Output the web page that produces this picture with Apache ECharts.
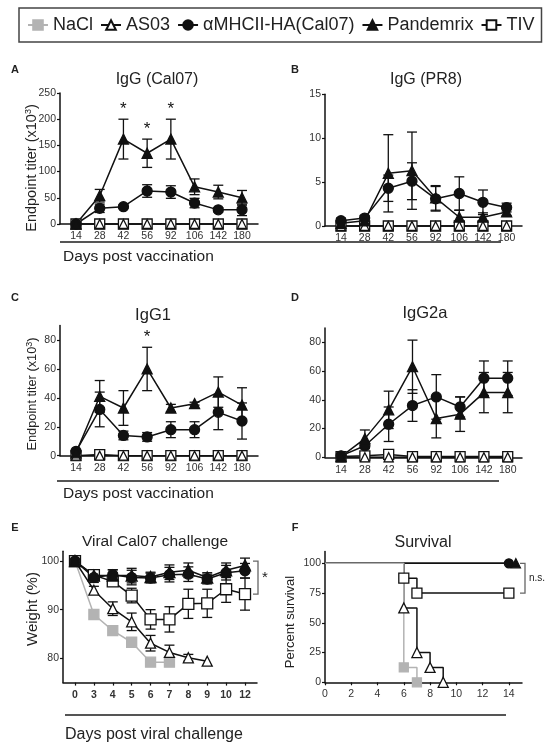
<!DOCTYPE html>
<html><head><meta charset="utf-8">
<script src="https://cdn.jsdelivr.net/npm/echarts@6/dist/echarts.min.js"></script>
<style>html,body{margin:0;padding:0;background:#fff}#c{width:552px;height:742px}</style>
</head><body><div id="c"></div>
<script>
// ---------- data ----------
const vacDays = ['14','28','42','56','92','106','142','180'];
// A: IgG (Cal07)
const aNaCl = [0,0,0,0,0,0,0,0];
const aAS03 = [0,0,0,0,0,0,0,0];
const aTIV  = [0,0,0,0,0,0,0,0];
const aMHC    = [0,30,33,63,61,40,27,27];
const aMHCErr = [0,8,3,12,12,9,4,11];
const aPan    = [0,54,162,135,162,71,61,50];
const aPanErr = [0,12,38,27,38,15,13,14];
const aStars  = [2,3,4];
// B: IgG (PR8)
const bNaCl = [0,0,0,0,0,0,0,0];
const bAS03 = [0,0,0,0,0,0,0,0];
const bTIV  = [0,0,0,0,0,0,0,0];
const bMHC    = [0.6,0.9,4.3,5.1,3.1,3.7,2.7,2.1];
const bMHCErr = [0.3,0.3,1.5,2.1,1.4,1.9,1.4,0.5];
const bPan    = [0.3,0.6,6.0,6.3,3.2,1.0,1.0,1.6];
const bPanErr = [0.3,0.3,4.4,4.4,1.4,0.8,0.5,0.4];
const bStars  = [];
// C: IgG1
const cNaCl = [0,0,0,0,0,0,0,0];
const cAS03 = [0,0,0,0,0,0,0,0];
const cTIV  = [0,0.8,0,0,0,0,0,0];
const cMHC    = [3,32,14,13,18,18,30,24];
const cMHCErr = [1,12,3,3,5.5,5.5,12,12.5];
const cPan    = [2,41,33,60,33,36,44,35];
const cPanErr = [1,11,12,15,2.5,1,10.5,12];
const cStars  = [3];
// D: IgG2a
const dNaCl = [0,0,0,0,0,0,0,0];
const dAS03 = [0,0,0,0,0,0,0,0];
const dTIV  = [0.5,1,2,0.5,0.5,0.5,0.5,0.5];
const dMHC    = [1,8,23,36,42,35,55,55];
const dMHCErr = [0.5,2,12,11,15.5,7,12,12];
const dPan    = [0.5,13,33,63,27,30,45,45];
const dPanErr = [0.5,6,13,18.5,13.5,12,14,14];
const dStars  = [];
// E: weight after challenge
const chDays = ['0','3','4','5','6','7','8','9','10','12'];
const eNaCl    = [100,89,85.7,83.3,79.2,79.2];
const eAS03    = [100,94,90.2,87.5,83.1,81.2,80.1,79.4];
const eAS03Err = [0,0.8,1.4,1.8,1.6,1.5,0.7,0];
const eMHC     = [100,96.6,97.2,96.6,96.5,97.2,97.3,96.3,97.6,98];
const eMHCErr  = [0,1,1,1.5,1,1.5,1.5,1,1.5,1.5];
const ePan     = [100,97,97,97,96.7,97.7,98.1,96.6,98.1,99.1];
const ePanErr  = [0,0.8,1.2,1.5,1,1.5,1.5,1,1.5,1.5];
const eTIV     = [100,97.1,95.8,92.9,88,88,91.2,91.3,94.2,93.2];
const eTIVErr  = [0,1,1,1.5,2,2.6,3,2.9,2.7,3.3];
const eBracket = [100,93.2];
// F: survival (day, percent)
const fNaCl = [[0,100],[6,12.5],[7,0]];
const fAS03 = [[0,100],[6,62.5],[7,25],[8,12.5],[9,0]];
const fTIV  = [[0,100],[6,87.5],[7,75],[14,75]];
const fMHC  = [[0,100],[14,100]];
const fPan  = [[0,100],[14,100]];
const fBracket = [100,75];
// tick labels
const aTicks = [0,50,100,150,200,250];
const bTicks = [0,5,10,15];
const cdTicks = [0,20,40,60,80];
const eTicks = [80,90,100];
const fYTicks = [0,25,50,75,100];
const fXTicks = [0,2,4,6,8,10,12,14];

// ---------- styles ----------
const FONT = '"Liberation Sans", Arial, Helvetica, sans-serif';
const GRAY = '#b3b3b3', BLK = '#111';
const NAMES = {nacl:'NaCl', as03:'AS03', mhc:'αMHCII-HA(Cal07)', pan:'Pandemrix', tiv:'TIV'};
const ST = {
  nacl:{symbol:'rect', size:9, stroke:GRAY, fill:GRAY, line:GRAY},
  as03:{symbol:'triangle', size:9, stroke:BLK, fill:'#fff', line:BLK},
  mhc:{symbol:'circle', size:10, stroke:BLK, fill:BLK, line:BLK},
  pan:{symbol:'triangle', size:10, stroke:BLK, fill:BLK, line:BLK},
  tiv:{symbol:'rect', size:10, stroke:BLK, fill:'#fff', line:BLK}
};
const idx = arr => arr.map((v,i)=>[i,v]);

function lineS(key, gi, data, extra){
  const s = ST[key];
  return Object.assign({type:'line', name:NAMES[key], xAxisIndex:gi, yAxisIndex:gi, data,
    symbol:s.symbol, symbolSize:s.size, showSymbol:true, showAllSymbol:true, clip:false,
    lineStyle:{color:s.line, width:1.5}, itemStyle:{color:s.fill, borderColor:s.stroke, borderWidth:1.3},
    emphasis:{disabled:true}, animation:false}, extra||{});
}
function errS(gi, vals, errs, color){
  return {type:'custom', xAxisIndex:gi, yAxisIndex:gi, silent:true, clip:false, animation:false,
    data: vals.map((v,i)=>[i, v-errs[i], v+errs[i]]).filter(d=>d[2]>d[1]),
    encode:{x:0, y:[1,2]},
    renderItem:(p,api)=>{
      const x=api.value(0), lo=api.coord([x,api.value(1)]), hi=api.coord([x,api.value(2)]);
      const w=5, st={stroke:color||BLK, lineWidth:1.3};
      return {type:'group', children:[
        {type:'line', shape:{x1:lo[0],y1:lo[1],x2:hi[0],y2:hi[1]}, style:st},
        {type:'line', shape:{x1:lo[0]-w,y1:lo[1],x2:lo[0]+w,y2:lo[1]}, style:st},
        {type:'line', shape:{x1:hi[0]-w,y1:hi[1],x2:hi[0]+w,y2:hi[1]}, style:st}]};
    }};
}
function starS(gi, ids, vals, errs){
  return {type:'custom', xAxisIndex:gi, yAxisIndex:gi, silent:true, clip:false, animation:false,
    data: ids.map(i=>[i, vals[i]+errs[i]]),
    renderItem:(p,api)=>{
      const c=api.coord([api.value(0),api.value(1)]);
      return {type:'text', x:c[0], y:c[1]-1, style:{text:'*', fontSize:17, fontFamily:FONT, fill:BLK,
        align:'center', verticalAlign:'bottom', textAlign:'center', textVerticalAlign:'bottom'}};
    }};
}
const axisLine = {onZero:false, lineStyle:{color:BLK, width:1.5}};
function xCat(gi, labels, min, max, bold){
  const vals = labels.map((_,i)=>i);
  return {type:'value', gridIndex:gi, min, max, axisLine,
    axisTick:{show:true, length:3, customValues:vals, lineStyle:{color:BLK, width:1.2}},
    axisLabel:{customValues:vals, formatter:v=>labels[Math.round(v)], fontSize:10.5, color:'#333',
      fontFamily:FONT, fontWeight: bold?'bold':'normal', margin:7},
    splitLine:{show:false}};
}
function xVal(gi, ticks, min, max){
  return {type:'value', gridIndex:gi, min, max, axisLine,
    axisTick:{show:true, length:3, customValues:ticks, lineStyle:{color:BLK, width:1.2}},
    axisLabel:{customValues:ticks, fontSize:10.5, color:'#333', fontFamily:FONT, margin:6},
    splitLine:{show:false}};
}
function yVal(gi, ticks, min, max){
  return {type:'value', gridIndex:gi, min, max, axisLine,
    axisTick:{show:true, length:3, customValues:ticks, lineStyle:{color:BLK, width:1.2}},
    axisLabel:{customValues:ticks, fontSize:10.5, color:'#333', fontFamily:FONT, margin:4},
    splitLine:{show:false}};
}
function grid(left, top, width, height){
  return {left, top, width, height, containLabel:false, outerBoundsMode:'none'};
}

const vacPanels = [
  {gi:0, nacl:aNaCl, as03:aAS03, tiv:aTIV, mhc:aMHC, mhcErr:aMHCErr, pan:aPan, panErr:aPanErr, stars:aStars},
  {gi:1, nacl:bNaCl, as03:bAS03, tiv:bTIV, mhc:bMHC, mhcErr:bMHCErr, pan:bPan, panErr:bPanErr, stars:bStars},
  {gi:2, nacl:cNaCl, as03:cAS03, tiv:cTIV, mhc:cMHC, mhcErr:cMHCErr, pan:cPan, panErr:cPanErr, stars:cStars},
  {gi:3, nacl:dNaCl, as03:dAS03, tiv:dTIV, mhc:dMHC, mhcErr:dMHCErr, pan:dPan, panErr:dPanErr, stars:dStars}
];
const series = [];
vacPanels.forEach(p=>{
  series.push(lineS('nacl', p.gi, idx(p.nacl)));
  series.push(lineS('tiv', p.gi, idx(p.tiv)));
  series.push(lineS('as03', p.gi, idx(p.as03)));
  series.push(errS(p.gi, p.mhc, p.mhcErr));
  series.push(lineS('mhc', p.gi, idx(p.mhc)));
  series.push(errS(p.gi, p.pan, p.panErr));
  series.push(lineS('pan', p.gi, idx(p.pan)));
  if (p.stars.length) series.push(starS(p.gi, p.stars, p.pan, p.panErr));
});
// E
series.push(lineS('nacl', 4, idx(eNaCl), {symbolSize:10}));
series.push(errS(4, eAS03, eAS03Err));
series.push(lineS('as03', 4, idx(eAS03), {symbolSize:10}));
series.push(errS(4, eTIV, eTIVErr));
series.push(lineS('tiv', 4, idx(eTIV), {symbolSize:11}));
series.push(errS(4, eMHC, eMHCErr));
series.push(lineS('mhc', 4, idx(eMHC)));
series.push(errS(4, ePan, ePanErr));
series.push(lineS('pan', 4, idx(ePan), {symbolSize:11}));
// F
const km = (arr, lastOnly) => arr.map((p,i)=> (i===0 || (lastOnly && i<arr.length-1)) ? {value:p, symbol:'none'} : p);
series.push(lineS('as03', 5, km(fAS03), {step:'end', symbolSize:10}));
series.push(lineS('tiv', 5, km(fTIV), {step:'end', symbolSize:10}));
series.push(lineS('mhc', 5, km(fMHC, true), {step:'end', symbolSize:9}));
series.push(lineS('pan', 5, km(fPan, true), {step:'end', symbolSize:9, symbolOffset:[7,0]}));
series.push(lineS('nacl', 5, km(fNaCl), {step:'end', symbolSize:9}));

const option = {
  animation:false,
  backgroundColor:'#fff',
  textStyle:{fontFamily:FONT},
  legend:{left:19, top:8, itemWidth:20, itemHeight:12, itemGap:7, padding:[8,7,8,8],
    borderColor:'#444', borderWidth:1.5, selectedMode:false,
    textStyle:{fontSize:18, fontFamily:FONT, color:'#222'},
    data:[NAMES.nacl, NAMES.as03, NAMES.mhc, NAMES.pan, NAMES.tiv]},
  grid:[grid(60,93,198,131), grid(325,94.3,197,131.7), grid(60,325.6,198,130.1),
        grid(325,327.9,197,129.4), grid(63,551.3,194,131.3), grid(325,551.4,197,130.9)],
  xAxis:[xCat(0,vacDays,-0.675,7.675), xCat(1,vacDays,-0.675,7.65), xCat(2,vacDays,-0.675,7.675),
         xCat(3,vacDays,-0.675,7.6), xCat(4,chDays,-0.635,9.635,true), xVal(5,fXTicks,0,15)],
  yAxis:[yVal(0,aTicks,0,250), yVal(1,bTicks,0,15), yVal(2,cdTicks,0,90), yVal(3,cdTicks,0,90),
         yVal(4,eTicks,75,102), yVal(5,fYTicks,0,110)],
  series
};
const chart = echarts.init(document.getElementById('c'), null, {renderer:'canvas'});
chart.setOption(option);

function txt(x, y, text, size, opts){
  opts = opts||{};
  const al = opts.align||'center', va = opts.va||'middle';
  return {type:'text', x, y, rotation:opts.rot||0, silent:true,
    style:Object.assign({text, fontSize:size, fontFamily:FONT, fontWeight:opts.weight||'normal', fill:opts.fill||'#222',
      align:al, verticalAlign:va, textAlign:al, textVerticalAlign:va}, opts.style||{})};
}
function hline(x1, x2, y){
  return {type:'line', silent:true, shape:{x1, y1:y, x2, y2:y}, style:{stroke:'#555', lineWidth:1.8}};
}
const supRich = {s:{fontSize:9, verticalAlign:'top', fontFamily:FONT, fill:'#222'}};
function bracket(gi, xVal, range, label, size, dx){
  const p1 = chart.convertToPixel({gridIndex:gi}, [xVal, range[0]]);
  const p2 = chart.convertToPixel({gridIndex:gi}, [xVal, range[1]]);
  const x = p1[0] + dx;
  return [
    {type:'polyline', silent:true, shape:{points:[[x-5,p1[1]],[x,p1[1]],[x,p2[1]],[x-5,p2[1]]]},
      style:{stroke:'#666', lineWidth:1.3, fill:null}},
    txt(x+4, (p1[1]+p2[1])/2, label, size, {align:'left'})
  ];
}
const graphics = [
  txt(15,70,'A',11,{weight:'bold'}), txt(295,70,'B',11,{weight:'bold'}),
  txt(15,298,'C',11,{weight:'bold'}), txt(295,298,'D',11,{weight:'bold'}),
  txt(15,528,'E',11,{weight:'bold'}), txt(295,528,'F',11,{weight:'bold'}),
  txt(157,80,'IgG (Cal07)',16), txt(426,80,'IgG (PR8)',16),
  txt(153,315,'IgG1',16.5), txt(425,313,'IgG2a',16.5),
  txt(155,542,'Viral Cal07 challenge',15.5), txt(423,543,'Survival',16),
  txt(32,168,'Endpoint titer (x10{s|3})',14.5,{rot:Math.PI/2, style:{rich:supRich}}),
  txt(32,394,'Endpoint titer (x10{s|3})',12.8,{rot:Math.PI/2, style:{rich:supRich}}),
  txt(33,609,'Weight (%)',15,{rot:Math.PI/2}),
  txt(290,622,'Percent survival',13,{rot:Math.PI/2}),
  hline(60,501,242), hline(57,499,481), hline(65,506,715),
  txt(63,257,'Days post vaccination',15.5,{align:'left'}),
  txt(63,494,'Days post vaccination',15.5,{align:'left'}),
  txt(65,735,'Days post viral challenge',16,{align:'left'})
].concat(bracket(4, 9.635, eBracket, '*', 15, 1), bracket(5, 15, fBracket, 'n.s.', 10, 3));
chart.setOption({graphic:graphics});
</script>
</body></html>
